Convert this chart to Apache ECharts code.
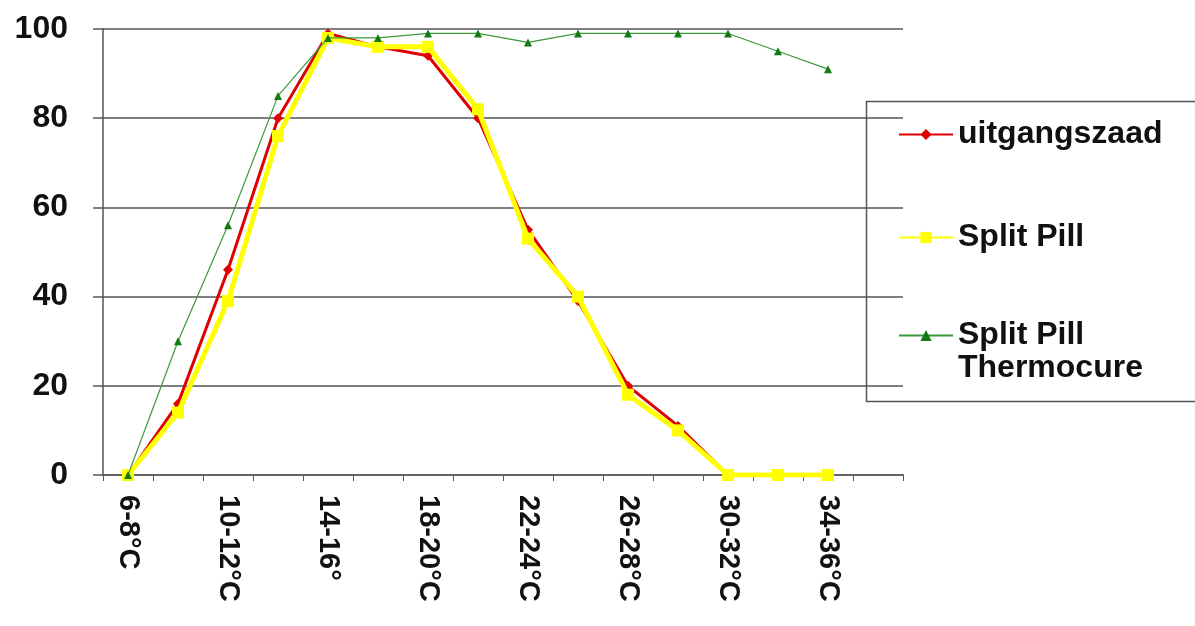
<!DOCTYPE html>
<html><head><meta charset="utf-8">
<script src="https://cdn.jsdelivr.net/npm/echarts@6/dist/echarts.min.js"></script>
<style>html,body{margin:0;padding:0;background:#fff}#c{width:1195px;height:626px}</style>
</head><body><div id="c"></div>
<script>
const categories = ['6-8°C','8-10°C','10-12°C','12-14°C','14-16°','16-18°C','18-20°C','20-22°C','22-24°C','24-26°C','26-28°C','28-30°C','30-32°C','32-34°C','34-36°C','36-38°C'];
const uitgangszaad = [0,16,46,80,99,96,94,80,55,39,20,11,0,0,0,null];
const splitPill = [0,14,39,76,98,96,96,82,53,40,18,10,0,0,0,null];
const thermocure = [0,30,56,85,98,98,99,99,97,99,99,99,99,95,91,null];
const yTicks = [0,20,40,60,80,100];
const seriesNames = ['uitgangszaad', 'Split Pill', 'Split Pill Thermocure'];

const font = '"Liberation Sans", Arial, sans-serif';
const chart = echarts.init(document.getElementById('c'));
const legendText = {fontFamily: font, fontWeight: 'bold', fontSize: 32, lineHeight: 33, color: '#111'};
const legendBase = {orient: 'vertical', left: 893, itemWidth: 54, itemHeight: 14, itemGap: 0, itemStyle: {}, textStyle: legendText, z: 10};
chart.setOption({
  animation: false,
  grid: {left: 103, right: 292, top: 29, bottom: 151, containLabel: false},
  xAxis: {
    type: 'category', data: categories, boundaryGap: true,
    axisLine: {lineStyle: {color: '#666', width: 2}},
    axisTick: {show: true, length: 6, interval: 0, lineStyle: {color: '#555', width: 1}},
    axisLabel: {interval: 1, rotate: -90, margin: 20, fontFamily: font, fontWeight: 'bold', fontSize: 29, color: '#111'},
    splitLine: {show: false}
  },
  yAxis: {
    type: 'value', min: 0, max: 100, interval: 20,
    axisLine: {show: true, lineStyle: {color: '#555', width: 1.5}},
    axisTick: {show: true, length: 10, lineStyle: {color: '#555', width: 1.5}},
    axisLabel: {margin: 35, fontFamily: font, fontWeight: 'bold', fontSize: 32, color: '#111',
      formatter: v => yTicks.includes(v) ? String(v) : ''},
    splitLine: {show: true, lineStyle: {color: '#555', width: 1.5}}
  },
  graphic: [{type: 'rect', shape: {x: 866.5, y: 101.5, width: 360, height: 300}, style: {fill: '#fff', stroke: '#555', lineWidth: 1.5}, z: 0}],
  legend: [
    Object.assign({}, legendBase, {data: [seriesNames[0]], top: 113}),
    Object.assign({}, legendBase, {data: [seriesNames[1]], top: 216}),
    Object.assign({}, legendBase, {data: [seriesNames[2]], top: 281, formatter: () => ' \nSplit Pill\nThermocure'})
  ],
  series: [
    {name: seriesNames[0], type: 'line', data: uitgangszaad, symbol: 'diamond', symbolSize: 10,
      lineStyle: {color: '#e00000', width: 3}, itemStyle: {color: '#e00000'}, z: 2},
    {name: seriesNames[1], type: 'line', data: splitPill, symbol: 'rect', symbolSize: 12,
      lineStyle: {color: '#ffff00', width: 5}, itemStyle: {color: '#ffff00'}, z: 3},
    {name: seriesNames[2], type: 'line', data: thermocure, symbol: 'triangle', symbolSize: 8,
      lineStyle: {color: '#3a9a3a', width: 1.2}, itemStyle: {color: '#137a13'}, z: 4}
  ]
});
</script></body></html>
